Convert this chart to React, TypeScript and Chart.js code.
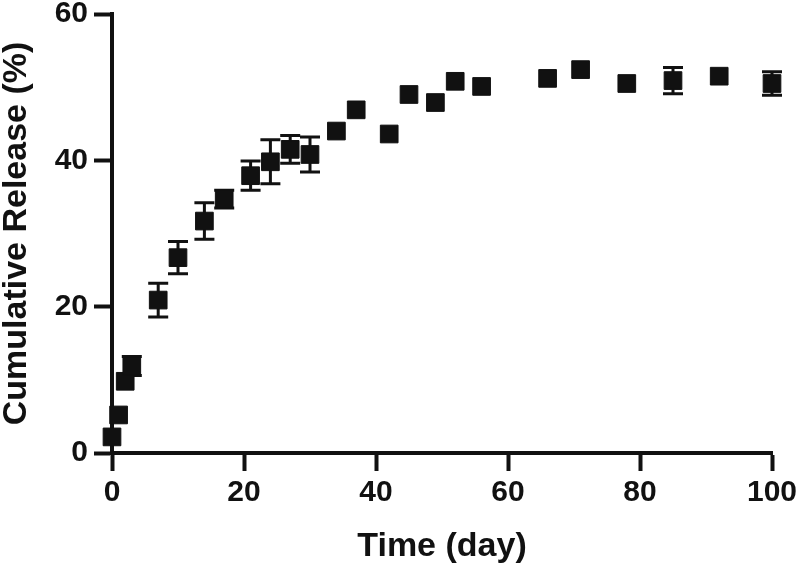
import React, { useEffect, useRef } from "react";
import { Chart, registerables } from "chart.js";

Chart.register(...registerables);

const days = [0, 1, 2, 3, 7, 10, 14, 17, 21, 24, 27, 30, 34, 37, 42, 45, 49, 52, 56, 66, 71, 78, 85, 92, 100];
const release = [2.2, 5.2, 9.8, 11.9, 20.9, 26.7, 31.7, 34.7, 37.9, 39.8, 41.5, 40.8, 44.0, 46.9, 43.6, 49.0, 47.9, 50.8, 50.1, 51.2, 52.4, 50.5, 50.9, 51.5, 50.5];
const errors = [0, 0, 0, 1.3, 2.3, 2.2, 2.5, 1.2, 2.0, 3.0, 1.9, 2.4, 0, 0, 0, 0, 0, 0, 0, 0, 0, 0, 1.8, 0, 1.6];
const xTicks = [0, 20, 40, 60, 80, 100];
const yTicks = [0, 20, 40, 60];

const FONT = "'Liberation Sans', Arial, Helvetica, sans-serif";

const errorBarPlugin = {
  id: "errorBars",
  beforeDatasetsDraw(chart: any) {
    const ctx = chart.ctx;
    const xs = chart.scales.x;
    const ys = chart.scales.y;
    ctx.save();
    ctx.strokeStyle = "#111";
    ctx.lineWidth = 3;
    const cap = 10;
    days.forEach((d, i) => {
      if (!errors[i]) return;
      const x = xs.getPixelForValue(d);
      const yTop = ys.getPixelForValue(release[i] + errors[i]);
      const yBot = ys.getPixelForValue(release[i] - errors[i]);
      ctx.beginPath();
      ctx.moveTo(x, yTop);
      ctx.lineTo(x, yBot);
      ctx.moveTo(x - cap, yTop);
      ctx.lineTo(x + cap, yTop);
      ctx.moveTo(x - cap, yBot);
      ctx.lineTo(x + cap, yBot);
      ctx.stroke();
    });
    ctx.restore();
  },
};

export default function App() {
  const ref = useRef<HTMLCanvasElement | null>(null);
  useEffect(() => {
    if (!ref.current) return;
    const chart = new Chart(ref.current, {
      type: "scatter",
      data: {
        datasets: [
          {
            data: days.map((d, i) => ({ x: d, y: release[i] })),
            pointStyle: "rect",
            pointRadius: 12.5,
            pointHoverRadius: 12.5,
            backgroundColor: "#111",
            borderColor: "#111",
            borderWidth: 1,
            clip: false as any,
          },
        ],
      },
      options: {
        animation: false,
        responsive: false,
        devicePixelRatio: 1,
        events: [],
        layout: { padding: { top: 14, right: 26, bottom: 5, left: 0 } },
        plugins: { legend: { display: false }, tooltip: { enabled: false } },
        scales: {
          x: {
            type: "linear",
            min: 0,
            max: 100,
            afterBuildTicks: (s: any) => {
              s.ticks = xTicks.map((v) => ({ value: v }));
            },
            afterFit: (s: any) => {
              s.height = 111;
              s.paddingLeft = 0;
              s.paddingRight = 0;
            },
            grid: { drawOnChartArea: false, tickLength: 18, tickWidth: 4, color: "#111" },
            border: { width: 4, color: "#111" },
            ticks: {
              color: "#111",
              padding: 7,
              maxRotation: 0,
              font: { family: FONT, size: 30, weight: "bold", lineHeight: 1 },
            },
            title: {
              display: true,
              text: "Time (day)",
              color: "#111",
              padding: 0,
              font: { family: FONT, size: 34, weight: "bold", lineHeight: 1 },
            },
          },
          y: {
            type: "linear",
            min: 0,
            max: 60,
            afterBuildTicks: (s: any) => {
              s.ticks = yTicks.map((v) => ({ value: v }));
            },
            afterFit: (s: any) => {
              s.width = 112;
              s.paddingTop = 0;
              s.paddingBottom = 0;
            },
            grid: { drawOnChartArea: false, tickLength: 18, tickWidth: 4, color: "#111" },
            border: { width: 4, color: "#111" },
            ticks: {
              color: "#111",
              padding: 6,
              font: { family: FONT, size: 30, weight: "bold", lineHeight: 1 },
            },
            title: {
              display: true,
              text: "Cumulative Release (%)",
              color: "#111",
              padding: 0,
              font: { family: FONT, size: 34, weight: "bold", lineHeight: 1 },
            },
          },
        },
      },
      plugins: [errorBarPlugin],
    });
    return () => chart.destroy();
  }, []);
  return (
    <div style={{ position: "absolute", left: 0, top: 0, width: 798, height: 569, background: "#fff" }}>
      <canvas ref={ref} width={798} height={569} style={{ display: "block" }} />
    </div>
  );
}
